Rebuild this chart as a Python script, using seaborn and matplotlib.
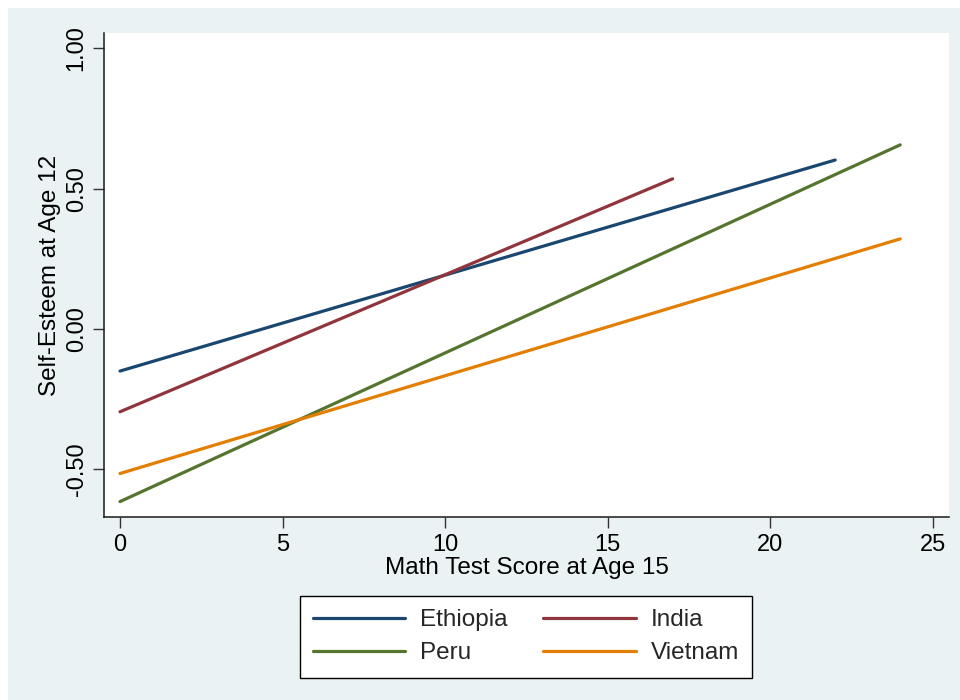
import matplotlib
matplotlib.use("Agg")
import matplotlib.pyplot as plt
from matplotlib.patches import Rectangle
from matplotlib.ticker import FormatStrFormatter
import seaborn as sns
import pandas as pd

# Fitted lines: score range and predicted self-esteem at each end
countries = ["Ethiopia", "India", "Peru", "Vietnam"]
score_start = [0, 0, 0, 0]
score_end = [22, 17, 24, 24]
esteem_start = [-0.150, -0.295, -0.615, -0.515]
esteem_end = [0.602, 0.535, 0.656, 0.321]
colors = ["#1A476F", "#90353B", "#55752F", "#E37E00"]
x_ticks = [0, 5, 10, 15, 20, 25]
y_ticks = [-0.5, 0.0, 0.5, 1.0]

rows = []
for c, x0, x1, y0, y1 in zip(countries, score_start, score_end, esteem_start, esteem_end):
    rows.append({"country": c, "score": x0, "esteem": y0})
    rows.append({"country": c, "score": x1, "esteem": y1})
df = pd.DataFrame(rows)

sns.set_theme(style="white")
plt.rcParams["font.family"] = ["Liberation Sans", "DejaVu Sans"]

W, H = 960, 700
fig = plt.figure(figsize=(W / 100, H / 100), dpi=100)
fig.patch.set_facecolor("white")
bg = "#EAF2F3"
fig.patches.append(Rectangle((8 / W, 0), 1 - 8 / W, 1 - 8 / H, transform=fig.transFigure,
                             facecolor=bg, edgecolor="none", zorder=-10))

ax = fig.add_axes([104.3 / W, 1 - 517.3 / H, (949.3 - 104.3) / W, (517.3 - 33) / H])
ax.set_facecolor("white")

sns.lineplot(data=df, x="score", y="esteem", hue="country", hue_order=countries,
             palette=colors, linewidth=2.3, ax=ax, legend=False, estimator=None, sort=False)

ax.set_xlim(-0.483, 25.51)
ax.set_ylim(-0.671, 1.0545)
ax.set_xticks(x_ticks)
ax.set_yticks(y_ticks)
ax.yaxis.set_major_formatter(FormatStrFormatter("%.2f"))

for s in ["top", "right"]:
    ax.spines[s].set_visible(False)
for s in ["left", "bottom"]:
    ax.spines[s].set_color("#1a1a1a")
    ax.spines[s].set_linewidth(1.1)

ax.tick_params(axis="both", which="major", direction="out", length=8, width=1.0,
               color="#333333", labelsize=17, labelcolor="black", pad=4,
               bottom=True, left=True)
for lab in ax.get_yticklabels():
    lab.set_rotation(90)
    lab.set_va("center")

ax.set_xlabel("Math Test Score at Age 15", fontsize=17.5, color="black", labelpad=1)
ax.set_ylabel("Self-Esteem at Age 12", fontsize=17.5, color="black", labelpad=3)

# Legend filled row by row: Ethiopia, India / Peru, Vietnam
order = [0, 2, 1, 3]
handles = [plt.Line2D([], [], color=colors[i], linewidth=2.3) for i in order]
labels = [countries[i] for i in order]
leg = fig.legend(handles, labels, ncol=2, loc="upper center",
                 bbox_to_anchor=(526 / W, 1 - 596 / H), frameon=True, fancybox=False,
                 fontsize=17.5, handlelength=3.8, handletextpad=0.62, columnspacing=1.45,
                 labelspacing=0.45, borderpad=0.55, borderaxespad=0)
leg.get_frame().set_edgecolor("black")
leg.get_frame().set_linewidth(1.0)
leg.get_frame().set_facecolor("white")
leg.get_frame().set_alpha(1)

fig.savefig("out.png", dpi=100, facecolor=fig.get_facecolor())
